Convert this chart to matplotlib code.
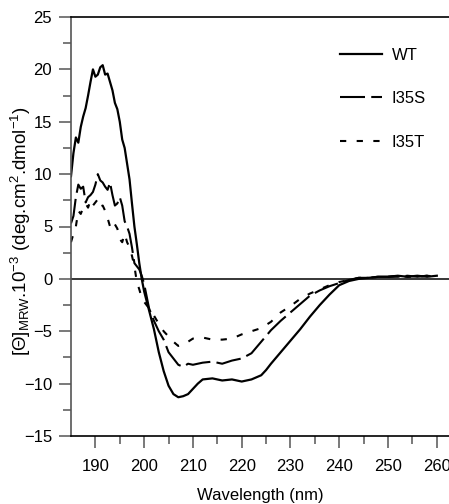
import matplotlib
matplotlib.use("Agg")
import matplotlib.pyplot as plt

plt.rcParams['font.family'] = ['Liberation Sans', 'DejaVu Sans']
plt.rcParams['mathtext.fontset'] = 'custom'
plt.rcParams['mathtext.rm'] = 'Liberation Sans'
plt.rcParams['mathtext.it'] = 'Liberation Sans'

# ---- data ----
wl_wt = [185, 185.5, 186, 186.5, 187, 187.5, 188, 188.5, 189, 189.5, 190, 190.5, 191, 191.5,
         192, 192.5, 193, 193.5, 194, 194.5, 195, 195.5, 196, 196.5, 197, 197.5, 198, 198.5,
         199, 199.5, 200, 201, 202, 203, 204, 205, 206, 207, 208, 209, 210, 211, 212, 214,
         216, 218, 220, 222, 224, 225, 226, 228, 230, 232, 234, 236, 238, 240, 242, 244,
         246, 248, 250, 252, 254, 256, 258, 260]
wt = [9.8, 12.0, 13.5, 13.0, 14.5, 15.5, 16.3, 17.5, 18.8, 20.0, 19.3, 19.5, 20.2, 20.4,
      19.5, 19.6, 18.8, 18.0, 16.8, 16.2, 15.0, 13.3, 12.5, 11.0, 9.5, 7.2, 5.0, 3.3,
      1.5, 0.0, -1.2, -3.0, -4.8, -7.0, -8.8, -10.2, -11.0, -11.3, -11.2, -11.0, -10.5, -10.0, -9.6, -9.5,
      -9.7, -9.6, -9.8, -9.6, -9.2, -8.7, -8.1, -7.0, -5.9, -4.8, -3.6, -2.5, -1.5, -0.6, -0.2, 0.0,
      0.1, 0.2, 0.2, 0.3, 0.2, 0.3, 0.2, 0.3]

wl_s = [185, 185.5, 186, 186.5, 187, 187.5, 188, 188.5, 189, 189.5, 190, 190.5, 191, 191.5,
        192, 192.5, 193, 193.5, 194, 194.5, 195, 195.5, 196, 196.5, 197, 197.5, 198, 198.5,
        199, 199.5, 200, 201, 202, 203, 204, 205, 206, 207, 208, 209, 210, 212, 214, 216,
        218, 220, 222, 224, 226, 228, 230, 232, 234, 236, 238, 240, 242, 244, 246, 248,
        250, 252, 254, 256, 258, 260]
i35s = [5.3, 6.0, 7.8, 9.0, 8.6, 8.8, 7.3, 7.8, 8.0, 8.3, 9.0, 10.0, 9.4, 9.2,
        8.8, 8.5, 9.2, 8.0, 7.0, 7.2, 7.8, 7.0, 5.5, 5.0, 4.3, 3.0, 1.5, 1.2,
        0.9, 0.3, -0.5, -2.8, -4.0, -5.0, -5.8, -7.0, -7.6, -8.2, -8.4, -8.1, -8.2, -8.0, -7.9, -8.1,
        -7.8, -7.6, -7.1, -6.0, -4.9, -4.0, -3.2, -2.4, -1.6, -1.1, -0.7, -0.4, -0.1, 0.1, 0.1, 0.2,
        0.2, 0.2, 0.3, 0.2, 0.3, 0.2]

wl_t = [185, 185.5, 186, 186.5, 187, 187.5, 188, 188.5, 189, 189.5, 190, 190.5, 191, 191.5,
        192, 192.5, 193, 193.5, 194, 194.5, 195, 195.5, 196, 196.5, 197, 197.5, 198, 198.5,
        199, 199.5, 200, 201, 202, 203, 204, 205, 206, 207, 208, 209, 210, 212, 214, 216,
        218, 220, 222, 224, 226, 228, 230, 232, 234, 236, 238, 240, 242, 244, 246, 248,
        250, 252, 254, 256, 258, 260]
i35t = [3.5, 4.3, 5.0, 6.5, 6.2, 6.8, 7.2, 6.8, 7.5, 7.0, 7.3, 7.6, 6.9, 7.0,
        6.5, 5.8, 5.0, 5.5, 5.2, 4.8, 3.8, 3.5, 4.3, 3.5, 3.0, 2.2, 1.2, -0.3,
        -1.0, -1.8, -2.2, -2.8, -3.5, -4.3, -5.0, -5.5, -6.0, -6.4, -6.3, -6.0, -5.7, -5.6, -5.8, -5.8,
        -5.7, -5.3, -5.0, -4.7, -4.1, -3.2, -2.6, -1.9, -1.4, -1.0, -0.6, -0.3, -0.1, 0.1, 0.1, 0.2,
        0.2, 0.3, 0.2, 0.2, 0.3, 0.2]

labels = ["WT", "I35S", "I35T"]
x_ticks = [190, 200, 210, 220, 230, 240, 250, 260]
y_ticks = [-15, -10, -5, 0, 5, 10, 15, 20, 25]

# ---- figure ----
fig = plt.figure(figsize=(4.49, 5.04), dpi=100)
ax = fig.add_axes([71/449, 1-436/504, 1-71/449, (436-17)/504])

ax.plot(wl_wt, wt, color='black', lw=1.6, ls='-', label=labels[0])
ax.plot(wl_s, i35s, color='black', lw=1.5, ls=(0, (12, 3)), label=labels[1])
ax.plot(wl_t, i35t, color='black', lw=1.5, ls=(0, (3, 5)), label=labels[2])
ax.axhline(0, color='black', lw=1.1, zorder=1)

ax.set_xlim(185, 262.5)
ax.set_ylim(-15, 25)
ax.set_xticks(x_ticks)
ax.set_yticks(y_ticks)
ax.set_xticks([x + 5 for x in x_ticks[:-1]], minor=True)
ax.set_yticks([y + 2.5 for y in y_ticks[:-1]], minor=True)

spine_col = '#555555'
for s in ['left', 'bottom', 'top']:
    ax.spines[s].set_color(spine_col)
    ax.spines[s].set_linewidth(1.2)
ax.spines['bottom'].set_color('black')
ax.spines['top'].set_color('black')
ax.spines['right'].set_visible(False)

ax.tick_params(which='major', direction='out', length=8.5, width=1.1, color=spine_col,
               labelsize=12, pad=5)
ax.tick_params(which='minor', direction='out', length=5.5, width=1.1, color=spine_col)
ax.tick_params(axis='x', which='major', pad=8)

ax.set_xlabel('Wavelength (nm)', fontsize=12, labelpad=10)
ax.set_ylabel(r'[Θ]$_{\mathrm{MRW}}$.10$^{-3}$ (deg.cm$^{2}$.dmol$^{-1}$)', fontsize=13.5)
ax.yaxis.set_label_coords((33 - 71) / 378, 0.49)

leg = ax.legend(loc='upper left', bbox_to_anchor=((340-71)/378, 1-(48-17)/419),
                frameon=False, fontsize=12, handlelength=2.5, handletextpad=0.6,
                labelspacing=1.7, borderaxespad=0, borderpad=0)

fig.savefig('out.png', dpi=100)
